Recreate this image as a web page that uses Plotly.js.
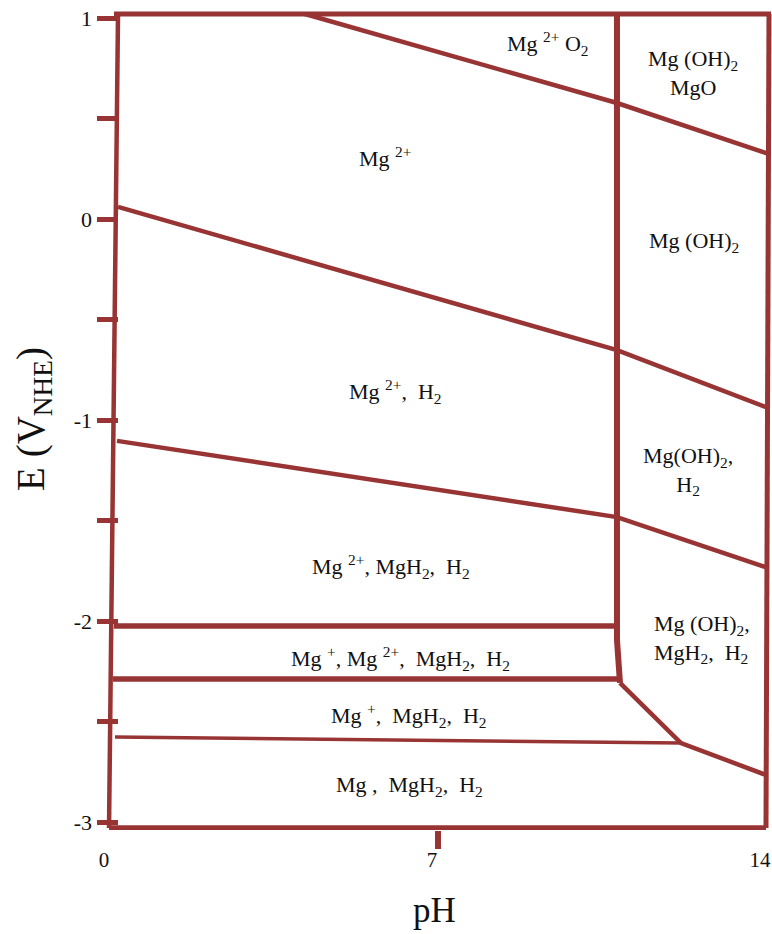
<!DOCTYPE html>
<html>
<head>
<meta charset="utf-8">
<script src="https://cdn.plot.ly/plotly-3.0.1.min.js"></script>
<style>html,body{margin:0;padding:0;background:#fff;}</style>
</head>
<body>
<div id="chart" style="width:772px;height:934px;"></div>
<script>
// ---- Data (pH, E in V vs NHE) ----
const frameTopPH = [0.085, 14.106];
const frameTopE = [1.020, 1.020];
const frameLeftPH = [0.171, -0.021];
const frameLeftE = [1.020, -3.030];
const frameBottomPH = [-0.021, 13.999];
const frameBottomE = [-3.030, -3.030];
const frameRightPH = [14.063, 13.999];
const frameRightE = [1.020, -3.030];

const hydroxideBoundaryPH = [10.819, 10.819, 10.883];
const hydroxideBoundaryE = [1.020, -2.094, -2.308];

const oxygenLinePH = [4.161, 10.819, 14.063];
const oxygenLineE = [1.020, 0.577, 0.323];

const hydrogenLinePH = [0.171, 10.819, 14.042];
const hydrogenLineE = [0.060, -0.652, -0.940];

const hydrideLinePH = [0.149, 10.819, 14.042];
const hydrideLineE = [-1.104, -1.483, -1.736];

const mgIonLinePH = [0.085, 10.777];
const mgIonLineE = [-2.025, -2.025];

const mgPlusLinePH = [0.064, 10.841];
const mgPlusLineE = [-2.289, -2.289];

const lowerBoundaryPH = [10.883, 12.185, 13.999];
const lowerBoundaryE = [-2.308, -2.607, -2.766];

const metalLinePH = [0.107, 12.185];
const metalLineE = [-2.577, -2.607];

const regionLabels = [
  'Mg <sup>2+</sup> O<sub>2</sub>',
  'Mg (OH)<sub>2</sub><br>MgO',
  'Mg <sup>2+</sup>',
  'Mg (OH)<sub>2</sub>',
  'Mg <sup>2+</sup>,\u00a0 H<sub>2</sub>',
  'Mg(OH)<sub>2</sub>,<br>H<sub>2</sub>',
  'Mg <sup>2+</sup>, MgH<sub>2</sub>,\u00a0 H<sub>2</sub>',
  'Mg (OH)<sub>2</sub>,<br>MgH<sub>2</sub>,\u00a0 H<sub>2</sub>',
  'Mg <sup>+</sup>, Mg <sup>2+</sup>,\u00a0 MgH<sub>2</sub>,\u00a0 H<sub>2</sub>',
  'Mg <sup>+</sup>,\u00a0 MgH<sub>2</sub>,\u00a0 H<sub>2</sub>',
  'Mg ,\u00a0 MgH<sub>2</sub>,\u00a0 H<sub>2</sub>'
];
const regionPH = [9.347, 12.441, 5.869, 12.463, 6.082, 12.335, 5.997, 11.566, 6.189, 6.381, 6.381];
const regionE = [0.871, 0.724, 0.308, -0.114, -0.856, -1.254, -1.731, -2.090, -2.189, -2.468, -2.821];
const regionAnchor = ['center','center','center','center','center','center','center','left','center','center','center'];

const yTickVals = [1, 0, -1, -2, -3];
const yTickText = ['1', '0', '-1', '-2', '-3'];
const yMinorTickVals = [0.5, -0.5, -1.5, -2.5];
const xTickVals = [0, 7, 14];
const xTickText = ['0', '7', '14'];
const xMinorTickVals = [7];

// ---- Styling ----
const RED = '#993434';
const SERIF = 'Liberation Serif, Times New Roman, serif';

function seg(x, y, w) {
  return {x: x, y: y, mode: 'lines', type: 'scatter', hoverinfo: 'skip',
          line: {color: RED, width: w}, showlegend: false};
}

const traces = [
  seg(frameTopPH, frameTopE, 5),
  seg(frameLeftPH, frameLeftE, 4.5),
  seg(frameBottomPH, frameBottomE, 5.5),
  seg(frameRightPH, frameRightE, 5),
  seg(hydroxideBoundaryPH, hydroxideBoundaryE, 6),
  seg(oxygenLinePH, oxygenLineE, 4.5),
  seg(hydrogenLinePH, hydrogenLineE, 4.5),
  seg(hydrideLinePH, hydrideLineE, 4.5),
  seg(mgIonLinePH, mgIonLineE, 5.5),
  seg(mgPlusLinePH, mgPlusLineE, 5.5),
  seg(lowerBoundaryPH, lowerBoundaryE, 4.5),
  seg(metalLinePH, metalLineE, 3.5)
];

const annotations = regionLabels.map((t, i) => ({
  text: t, x: regionPH[i], y: regionE[i], xref: 'x', yref: 'y',
  showarrow: false, xanchor: regionAnchor[i], yanchor: 'middle',
  align: regionAnchor[i] === 'left' ? 'left' : 'center',
  font: {family: SERIF, size: 22, color: '#111'}
}));

const pxPerPH = 46.86;
const layout = {
  width: 772, height: 934,
  margin: {l: 97, r: 0, t: 8, b: 104},
  paper_bgcolor: '#ffffff', plot_bgcolor: '#ffffff',
  showlegend: false,
  hovermode: false,
  xaxis: {
    range: [(97 - 110) / pxPerPH, (772 - 110) / pxPerPH],
    showgrid: false, zeroline: false, showline: false,
    tickmode: 'array', tickvals: xTickVals, ticktext: xTickText,
    ticks: '', ticklabelstandoff: 15, ticklabelshift: -6,
    ticklabeloverflow: 'allow',
    tickfont: {family: SERIF, size: 21, color: '#111'},
    minor: {tickmode: 'array', tickvals: xMinorTickVals, ticks: 'outside',
            ticklen: 18, tickwidth: 6, tickcolor: RED, showgrid: false},
    title: {text: 'pH', font: {family: SERIF, size: 35, color: '#111'}, standoff: 26}
  },
  yaxis: {
    range: [1 - (830 - 18) / 201, 1 + 10 / 201],
    showgrid: false, zeroline: false, showline: false,
    tickmode: 'array', tickvals: yTickVals, ticktext: yTickText,
    ticks: 'inside', ticklen: 21, tickwidth: 5, tickcolor: RED,
    ticklabelstandoff: 4,
    tickfont: {family: SERIF, size: 22, color: '#111'},
    minor: {tickmode: 'array', tickvals: yMinorTickVals, ticks: 'inside',
            ticklen: 21, tickwidth: 5, tickcolor: RED, showgrid: false},
    title: {text: 'E (V<sub>NHE</sub>)', font: {family: SERIF, size: 39, color: '#111'}, standoff: 17}
  },
  annotations: annotations
};

Plotly.newPlot('chart', traces, layout, {staticPlot: true, displayModeBar: false});
</script>
</body>
</html>
